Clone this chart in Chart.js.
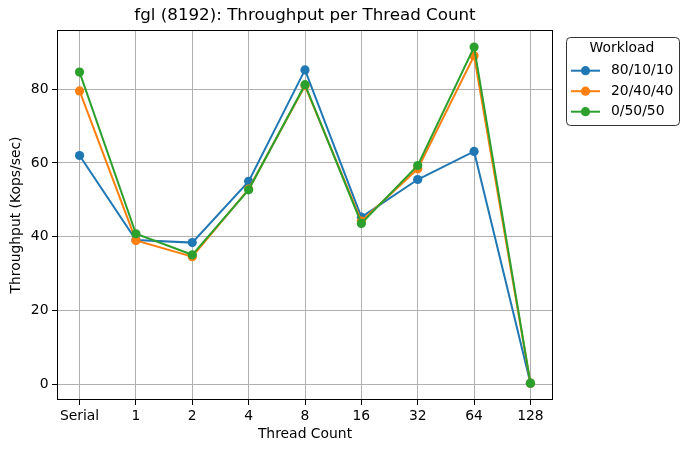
<!DOCTYPE html>
<html>
<head>
<meta charset="utf-8">
<script src="https://cdn.jsdelivr.net/npm/chart.js@4"></script>
<style>
  body { margin: 0; background: #fff; }
</style>
</head>
<body>
<canvas id="chart-throughput" width="688" height="453"></canvas>
<script>
const threadLabels = ["Serial", "1", "2", "4", "8", "16", "32", "64", "128"];
const workloads = ["80/10/10", "20/40/40", "0/50/50"];
const tput_80_10_10 = [62.0, 39.1, 38.4, 55.0, 85.2, 45.3, 55.5, 63.1, 0.3];
const tput_20_40_40 = [79.5, 39.0, 34.6, 52.9, 80.9, 44.2, 58.4, 89.0, 0.3];
const tput_0_50_50 = [84.6, 40.8, 35.1, 52.7, 81.2, 43.6, 59.3, 91.4, 0.3];
const yTicks = [0, 20, 40, 60, 80];
const colors = ["#1f77b4", "#ff7f0e", "#2ca02c"];

const FONT = "'DejaVu Sans', sans-serif";
const ctx = document.getElementById("chart-throughput").getContext("2d");

function toPoints(values) {
  return values.map(function (v, i) {
    return { x: i, y: v };
  });
}

const seriesValues = [tput_80_10_10, tput_20_40_40, tput_0_50_50];

// box round the plot (top and right too, like matplotlib)
const frame = {
  id: "frame",
  afterDatasetsDraw(chart) {
    const a = chart.chartArea;
    const c = chart.ctx;
    const l = Math.round(a.left) + 0.5, t = Math.round(a.top) + 0.5;
    const r = Math.round(a.right) - 0.5, b = Math.round(a.bottom) - 0.5;
    c.save();
    c.strokeStyle = "#000";
    c.lineWidth = 1;
    c.strokeRect(l, t, r - l, b - t);
    c.restore();
  },
};

// legend outside on the right
const sideLegend = {
  id: "sideLegend",
  afterDraw(chart) {
    const c = chart.ctx;
    const x = 566.5, y = 37.5, w = 113, h = 88;
    c.save();
    c.fillStyle = "#fff";
    c.strokeStyle = "#333";
    c.lineWidth = 1;
    c.beginPath();
    c.roundRect(x, y, w, h, 4);
    c.fill();
    c.stroke();
    c.fillStyle = "#000";
    c.font = "13.9px " + FONT;
    c.textAlign = "center";
    c.textBaseline = "middle";
    c.fillText("Workload", 622, 48.5);
    c.textAlign = "left";
    workloads.forEach(function (name, i) {
      const ly = 70.7 + i * 20.5;
      c.strokeStyle = colors[i];
      c.lineWidth = 2;
      c.beginPath();
      c.moveTo(571, ly);
      c.lineTo(600, ly);
      c.stroke();
      c.fillStyle = colors[i];
      c.beginPath();
      c.arc(585.5, ly, 4.6, 0, Math.PI * 2);
      c.fill();
      c.fillStyle = "#000";
      c.fillText(name, 611, ly);
    });
    c.restore();
  },
};

new Chart(ctx, {
  type: "line",
  data: {
    datasets: workloads.map(function (name, i) {
      return {
        label: name,
        data: toPoints(seriesValues[i]),
        order: 3 - i, // later series on top, as in matplotlib
        borderColor: colors[i],
        backgroundColor: colors[i],
        borderWidth: 2,
        pointRadius: 4.6,
        pointHoverRadius: 4.6,
        pointBorderWidth: 0,
        tension: 0,
      };
    }),
  },
  options: {
    responsive: false,
    animation: false,
    devicePixelRatio: 1,
    layout: { padding: { left: 0, right: 135, top: 0, bottom: 0 } },
    plugins: {
      legend: { display: false },
      tooltip: { enabled: false },
      title: {
        display: true,
        fullSize: false,
        text: "fgl (8192): Throughput per Thread Count",
        color: "#000",
        font: { family: FONT, size: 16.7, weight: "normal", lineHeight: 1.2 },
        padding: { top: 6, bottom: 4 },
      },
    },
    scales: {
      x: {
        type: "linear",
        min: -0.4,
        max: 8.4,
        afterBuildTicks: (scale) => {
          scale.ticks = threadLabels.map((_, i) => ({ value: i }));
        },
        afterFit: (scale) => {
          scale.height = 53;
        },
        ticks: {
          color: "#000",
          padding: 3,
          maxRotation: 0,
          autoSkip: false,
          font: { family: FONT, size: 13.9 },
          callback: (value) => threadLabels[value],
        },
        grid: { color: "#b0b0b0", tickColor: "#000", tickLength: 5, lineWidth: 1 },
        border: { display: false },
        title: {
          display: true,
          text: "Thread Count",
          color: "#000",
          font: { family: FONT, size: 13.9, lineHeight: 1.2 },
          padding: { top: 2, bottom: 10 },
        },
      },
      y: {
        min: -4.25,
        max: 96,
        afterBuildTicks: (scale) => {
          scale.ticks = yTicks.map((v) => ({ value: v }));
        },
        afterFit: (scale) => {
          scale.width = 57;
        },
        ticks: {
          color: "#000",
          padding: 3.5,
          font: { family: FONT, size: 13.9 },
        },
        grid: { color: "#b0b0b0", tickColor: "#000", tickLength: 5, lineWidth: 1 },
        border: { display: false },
        title: {
          display: true,
          text: "Throughput (Kops/sec)",
          color: "#000",
          font: { family: FONT, size: 13.9, lineHeight: 1.2 },
          padding: { top: 8, bottom: 0 },
        },
      },
    },
  },
  plugins: [frame, sideLegend],
});
</script>
</body>
</html>
